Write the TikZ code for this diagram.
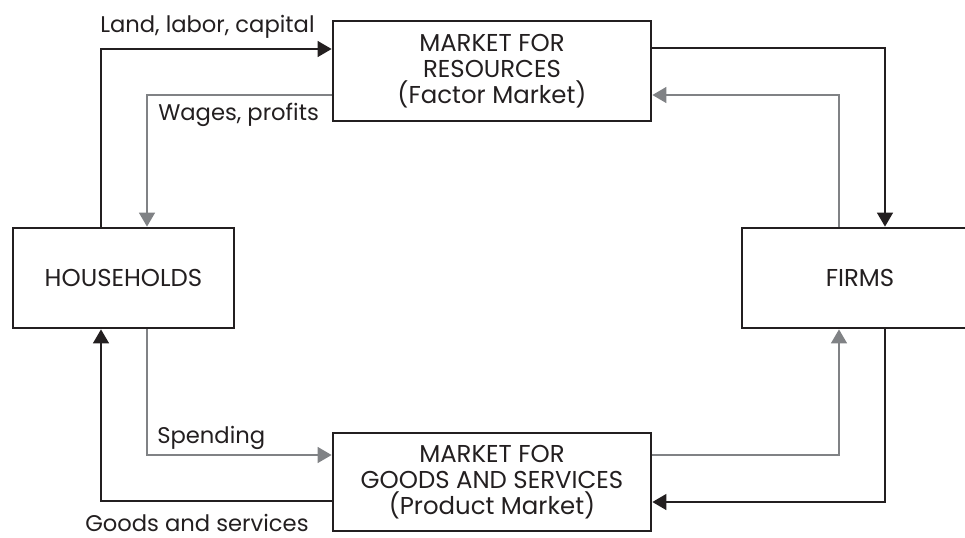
\documentclass[tikz,border=0pt]{standalone}
\usepackage{fontspec}
\setmainfont{Poppins}
\usetikzlibrary{arrows.meta}
\definecolor{ink}{HTML}{231F20}
\definecolor{flowgray}{HTML}{808285}
\begin{document}
\begin{tikzpicture}[x=0.75pt,y=-0.75pt,
  font=\fontsize{17}{19.5}\selectfont, text=ink,
  boxtext/.style={font=\fontsize{18.3}{19.5}\selectfont},
  marketbox/.style={boxtext, draw=ink, line width=2.1pt, align=center, inner sep=0pt,
    minimum width=238.5pt, minimum height=75pt},
  agentbox/.style={boxtext, draw=ink, line width=2.1pt, align=center, inner sep=0pt,
    minimum height=75pt},
  flowblack/.style={draw=ink, line width=1.1pt,
    -{Triangle[length=10.5pt,width=12pt]}},
  flowgrey/.style={draw=flowgray, line width=1.1pt,
    -{Triangle[length=10.5pt,width=12pt]}},
  flowlabel/.style={anchor=base west, inner sep=0pt, text depth=0pt}]
\useasboundingbox (0,0) rectangle (965,537);

% markets and agents
\node[marketbox] (res) at (492,71) {MARKET FOR\\RESOURCES\\(Factor Market)};
\node[marketbox, minimum height=73.5pt] (goods) at (492,482)
  {MARKET FOR\\GOODS AND SERVICES\\(Product Market)};
\node[agentbox, minimum width=165.75pt] (hh) at (123.5,278) {HOUSEHOLDS};
\node[agentbox, minimum width=177pt] (firms) at (860,278) {FIRMS};

% corner points of the circular flows
\coordinate (hhout) at (101,49);
\coordinate (hhin) at (147,95);
\coordinate (fmin) at (885,48);
\coordinate (fmout) at (839,95);
\coordinate (spend) at (147,455);
\coordinate (goodsback) at (101,501);
\coordinate (revenue) at (839,455);
\coordinate (supply) at (885,502);

% resource market
\draw[flowblack] (hh.north -| hhout) |- (res.west |- hhout);
\draw[flowgrey] (res.west |- hhin) -| (hh.north -| hhin);
\draw[flowblack] (res.east |- fmin) -| (firms.north -| fmin);
\draw[flowgrey] (firms.north -| fmout) |- (res.east |- fmout);

% product market
\draw[flowgrey] (hh.south -| spend) |- (goods.west |- spend);
\draw[flowblack] (goods.west |- goodsback) -| (hh.south -| goodsback);
\draw[flowgrey] (goods.east |- revenue) -| (firms.south -| revenue);
\draw[flowblack] (firms.south -| supply) |- (goods.east |- supply);

% flow labels
\node[flowlabel] (l1) at (100,32) {Land, labor, capital};
\node[flowlabel] (l2) at (158,120) {Wages, profits};
\node[flowlabel] (l3) at (157,443) {Spending};
\node[flowlabel] (l4) at (85,531) {Goods and services};
\end{tikzpicture}
\end{document}
